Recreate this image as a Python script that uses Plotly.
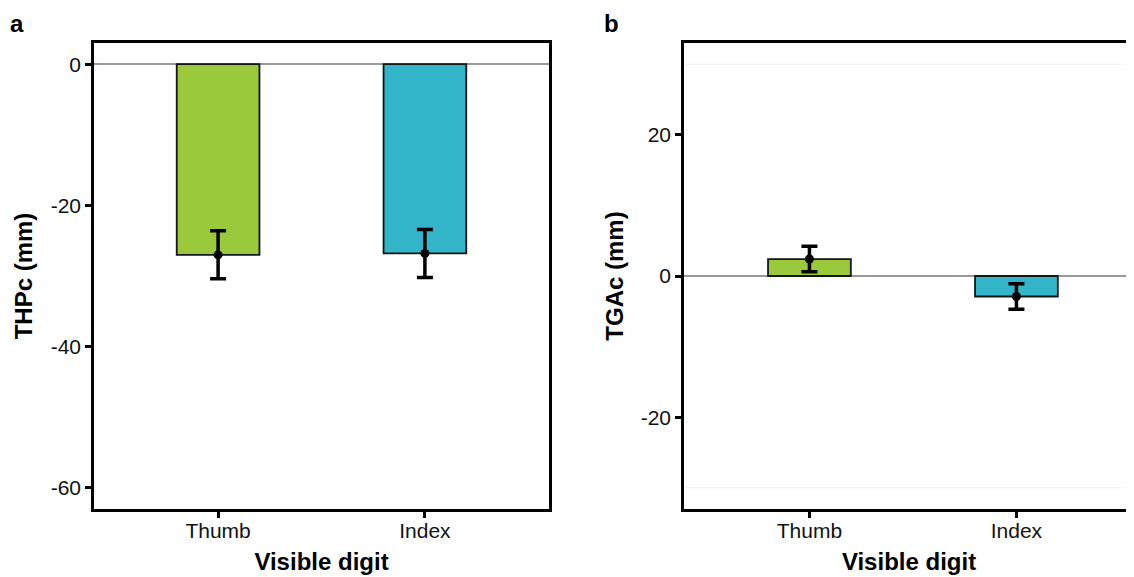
import plotly.graph_objects as go

digits = ["Thumb", "Index"]
thpc_mean = [-27.0, -26.8]
thpc_err = [3.4, 3.4]
tgac_mean = [2.4, -2.9]
tgac_err = [1.8, 1.8]
bar_colors = ["#9ACA3C", "#33B5C9"]
thpc_ticks = [0, -20, -40, -60]
tgac_ticks = [20, 0, -20]

xpos = [0, 1]
FONT = "Liberation Sans, Arial, Helvetica, sans-serif"

fig = go.Figure()

# Panel a
fig.add_trace(go.Bar(x=xpos, y=thpc_mean, width=0.4, marker=dict(color=bar_colors, line=dict(color="#151515", width=1.8)),
                     xaxis="x", yaxis="y", showlegend=False, hoverinfo="skip"))
fig.add_trace(go.Scatter(x=xpos, y=thpc_mean, mode="markers", marker=dict(color="black", size=9),
                         error_y=dict(type="data", array=thpc_err, color="black", thickness=3.5, width=8),
                         xaxis="x", yaxis="y", showlegend=False))
# Panel b
fig.add_trace(go.Bar(x=xpos, y=tgac_mean, width=0.4, marker=dict(color=bar_colors, line=dict(color="#151515", width=1.8)),
                     xaxis="x2", yaxis="y2", showlegend=False, hoverinfo="skip"))
fig.add_trace(go.Scatter(x=xpos, y=tgac_mean, mode="markers", marker=dict(color="black", size=9),
                         error_y=dict(type="data", array=tgac_err, color="black", thickness=3.5, width=8),
                         xaxis="x2", yaxis="y2", showlegend=False))

OFF = 8  # page body margin
W, H = 1134 - OFF, 577 - OFF


def px(x):
    return (x - OFF) / W


def py(y):
    return 1 - (y - OFF) / H


ydom = [py(509), py(43)]

tick_font = dict(family=FONT, size=21, color="#111")
title_font = dict(family=FONT, size=24, color="black")

common_x = dict(tickmode="array", tickvals=xpos, ticktext=digits, ticks="outside", ticklen=6, tickwidth=2.5,
                tickcolor="black", showline=True, linecolor="black", linewidth=2.5, showgrid=False, zeroline=False,
                tickfont=tick_font, automargin=False, ticklabelstandoff=-5,
                title=dict(text="<b>Visible digit</b>", font=title_font, standoff=13))
common_y = dict(tickmode="array", ticks="outside", ticklen=6, tickwidth=2.5, tickcolor="black", showline=True,
                linecolor="black", linewidth=2.5, showgrid=False, zeroline=True, zerolinecolor="#9a9a9a",
                zerolinewidth=1.5, tickfont=tick_font, automargin=False)

fig.update_layout(
    width=W, height=H,
    margin=dict(l=0, r=0, t=0, b=0),
    paper_bgcolor="white", plot_bgcolor="white",
    xaxis=dict(domain=[px(94), px(549)], range=[-0.6, 1.6], mirror=True, anchor="y", **common_x),
    yaxis=dict(domain=ydom, range=[-63, 3], tickvals=thpc_ticks, ticktext=[str(v) for v in thpc_ticks],
               mirror=True, anchor="x",
               title=dict(text="<b>THPc (mm)</b>", font=title_font, standoff=12),
               **common_y),
    xaxis2=dict(domain=[px(684), 1.0], range=[-0.606, 1.568], mirror=True, anchor="y2", **common_x),
    yaxis2=dict(domain=ydom, range=[-33, 33], tickvals=tgac_ticks, ticktext=[str(v) for v in tgac_ticks],
                mirror=False, anchor="x2",
                title=dict(text="<b>TGAc (mm)</b>", font=title_font, standoff=11),
                **common_y),
    annotations=[
        dict(text="<b>a</b>", x=px(17), y=1, xref="paper", yref="paper", showarrow=False,
             font=dict(family=FONT, size=24, color="black"), xanchor="center", yanchor="top"),
        dict(text="<b>b</b>", x=px(611), y=1, xref="paper", yref="paper", showarrow=False,
             font=dict(family=FONT, size=24, color="black"), xanchor="center", yanchor="top"),
    ],
    shapes=[
        dict(type="line", xref="x2 domain", yref="y2", x0=0, x1=1, y0=30, y1=30, line=dict(color="#f2f2f2", width=1), layer="below"),
        dict(type="line", xref="x2 domain", yref="y2", x0=0, x1=1, y0=-30, y1=-30, line=dict(color="#f2f2f2", width=1), layer="below"),
    ],
)

fig.write_html("out.html")
